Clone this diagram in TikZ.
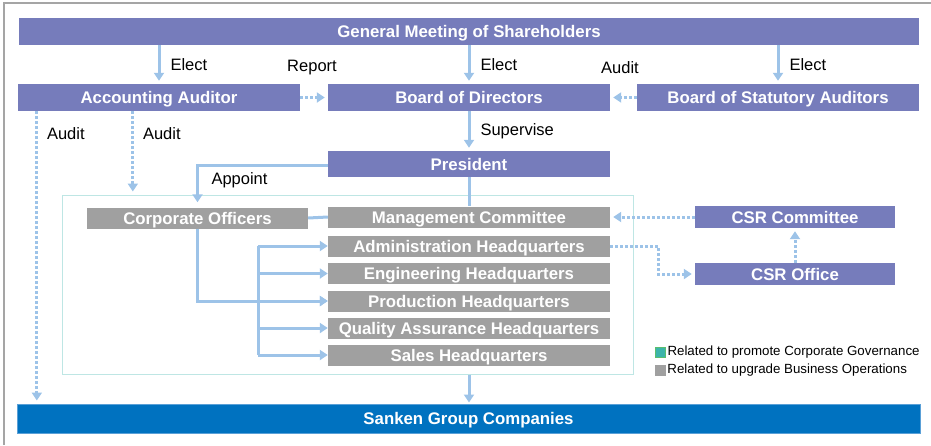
\documentclass[tikz,border=0pt]{standalone}
\usepackage{fontspec}
\setmainfont{Liberation Sans}
\usetikzlibrary{arrows.meta,positioning}
\definecolor{govpurple}{RGB}{118,124,187}
\definecolor{opgray}{RGB}{160,160,160}
\definecolor{linkblue}{RGB}{157,195,232}
\definecolor{groupblue}{RGB}{0,114,192}
\definecolor{groupedge}{RGB}{90,160,215}
\definecolor{execedge}{RGB}{190,230,228}
\definecolor{legteal}{RGB}{60,180,170}
\definecolor{leggreen}{RGB}{90,190,110}
\definecolor{framegray}{RGB}{165,165,165}

\begin{document}
\begin{tikzpicture}[x=1pt,y=-1pt,
	govbox/.style={fill=govpurple,text=white,inner sep=0,minimum height=27,text height=12pt,text depth=0pt,
		font=\bfseries\fontsize{16.8}{17}\selectfont},
	opbox/.style={fill=opgray,text=white,inner sep=0,minimum height=21,minimum width=282,text height=12pt,text depth=0pt,
		font=\bfseries\fontsize{16.8}{17}\selectfont},
	lbl/.style={inner sep=0,font=\fontsize{16.5}{17}\selectfont},
	legtext/.style={inner sep=0,anchor=west,font=\fontsize{13.3}{14}\selectfont},
	arr/.style={draw=linkblue,line width=3pt,-{Triangle[width=10pt,length=8pt]},shorten >=3pt},
	dotarr/.style={arr,dash pattern=on 3pt off 2pt},
	link/.style={draw=linkblue,line width=3pt}]
	\useasboundingbox (0,0) rectangle (931,445);
	\draw[framegray,line width=1.5pt] (4,445) -- (4,3) -- (931,3);

	\node[govbox,minimum width=900] (gms) at (469,31.5) {General Meeting of Shareholders};
	\node[govbox,minimum width=282] (aa) at (159,97.5) {Accounting Auditor};
	\node[govbox,minimum width=282] (bod) at (469,97.5) {Board of Directors};
	\node[govbox,minimum width=282] (bsa) at (778,97.5) {Board of Statutory Auditors};
	\node[govbox,minimum width=282,minimum height=26] (pres) at (469,164) {President};

	\node[draw=execedge,line width=1pt,minimum width=571,minimum height=179,inner sep=0] (exec) at (347.5,284.5) {};

	\node[opbox,minimum width=221] (co) at (197.5,218) {Corporate Officers};
	\node[opbox] (mc) at (469,217) {Management Committee};
	\node[opbox] (ahq) at (469,246) {Administration Headquarters};
	\node[opbox] (ehq) at (469,273.5) {Engineering Headquarters};
	\node[opbox] (phq) at (469,301) {Production Headquarters};
	\node[opbox] (qhq) at (469,328) {Quality Assurance Headquarters};
	\node[opbox] (shq) at (469,355) {Sales Headquarters};

	\node[govbox,minimum width=200,minimum height=22] (csrc) at (795,217) {CSR Committee};
	\node[govbox,minimum width=200,minimum height=22] (csro) at (795,274) {CSR Office};

	\node[fill=groupblue,draw=groupedge,line width=1pt,text=white,inner sep=0,minimum width=903,minimum height=29,
		text height=12pt,text depth=0pt,font=\bfseries\fontsize{16.8}{17}\selectfont] (sanken) at (468.5,418.5) {Sanken Group Companies};

	\draw[arr] (aa.north |- gms.south) -- (aa.north) node[lbl,midway,anchor=west,xshift=10pt] {Elect};
	\draw[arr] (bod.north |- gms.south) -- (bod.north) node[lbl,midway,anchor=west,xshift=10pt] {Elect};
	\draw[arr] (bsa.north |- gms.south) -- (bsa.north) node[lbl,midway,anchor=west,xshift=10pt] {Elect};
	\draw[dotarr] (aa.east) -- (bod.west);
	\draw[dotarr] (bsa.west) -- (bod.east);
	\node[lbl] (report) at (312,67.5) {Report};
	\node[lbl] (auditbsa) at (620,67.5) {Audit};
	\draw[arr] (bod.south) -- (pres.north) node[lbl,midway,anchor=west,xshift=10pt] {Supervise};

	\draw[arr,shorten >=5pt] ([yshift=-1pt]pres.west) -| (co.north);
	\node[lbl] (appoint) at (239.5,180.5) {Appoint};

	\coordinate (auditl) at ([xshift=19pt]aa.south west);
	\coordinate (auditr) at ([xshift=115pt]aa.south west);
	\draw[dotarr] (auditl) -- (auditl |- sanken.north);
	\draw[dotarr] (auditr) -- (auditr |- exec.north);
	\node[lbl,anchor=west] at ([xshift=10pt,yshift=-22pt]auditl) {Audit};
	\node[lbl,anchor=west] at ([xshift=10pt,yshift=-22pt]auditr) {Audit};

	\draw[link] (pres.south) -- (mc.north);
	\draw[link] (co.east) -- (mc.west);
	\draw[arr,shorten >=0pt] (co.south) |- (phq.west);
	\coordinate (bus) at (258,0);
	\draw[link] (bus |- ahq.west) -- (bus |- shq.west);
	\foreach \hq in {ahq,ehq,phq,qhq,shq}
		\draw[arr,shorten >=0pt] (bus |- \hq.west) -- (\hq.west);
	\draw[arr,shorten >=1pt] (mc.south |- exec.south) -- (mc.south |- sanken.north);

	\draw[dotarr] (csrc.west) -- (mc.east);
	\draw[dotarr] (csro.north) -- (csrc.south);
	\draw[dotarr] (ahq.east) -- ++(48,0) |- (csro.west);

	\node[fill=legteal,draw=leggreen,line width=0.6pt,minimum size=10,inner sep=0] (legtealsq) at (660.5,352) {};
	\node[legtext] at ([xshift=1.5pt]legtealsq.east) {Related to promote Corporate Governance};
	\node[fill=opgray,minimum size=11,inner sep=0] (leggraysq) at (660.5,370) {};
	\node[legtext] at ([xshift=1pt]leggraysq.east) {Related to upgrade Business Operations};
\end{tikzpicture}
\end{document}
